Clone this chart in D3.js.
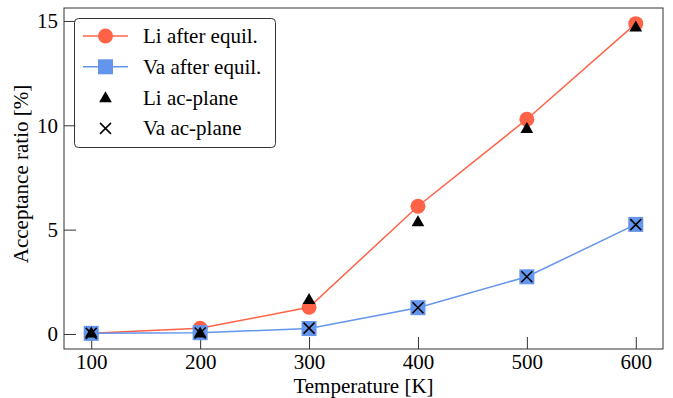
<!DOCTYPE html>
<html>
<head>
<meta charset="utf-8">
<script src="https://cdn.jsdelivr.net/npm/d3@7"></script>
<style>
  body { margin: 0; background: #fff; }
  svg { display: block; }
</style>
</head>
<body>
<svg id="chart" width="673" height="398"></svg>
<script>
// data
var temps = [100, 200, 300, 400, 500, 600];
var liEquil = [0.03, 0.27, 1.28, 6.12, 10.29, 14.87];
var vaEquil = [0.03, 0.06, 0.26, 1.26, 2.74, 5.25];
var liPlane = [0.05, 0.05, 1.66, 5.38, 9.86, 14.72];
var vaPlane = [0.03, 0.05, 0.28, 1.26, 2.74, 5.24];
var xTicks = [100, 200, 300, 400, 500, 600];
var yTicks = [0, 5, 10, 15];

var red = "#ff6347", blue = "#6495ed";
var fontSize = 21, font = "Liberation Serif";

var svg = d3.select("#chart");
var m = {left: 64, right: 663, top: 8, bottom: 349};

var x = d3.scaleLinear().domain([75, 625]).range([m.left, m.right]);
var y = d3.scaleLinear().domain([-0.72, 15.62]).range([m.bottom, m.top]);

// axes, ticks pointing inward
var gx = svg.append("g").attr("transform", "translate(0," + m.bottom + ")")
    .call(d3.axisBottom(x).tickValues(xTicks).tickSize(-12).tickPadding(5));
var gy = svg.append("g").attr("transform", "translate(" + m.left + ",0)")
    .call(d3.axisLeft(y).tickValues(yTicks).tickSize(-12).tickPadding(6));
[gx, gy].forEach(function(g){
    g.select(".domain").remove();
    g.selectAll("line").attr("stroke", "#333").attr("stroke-width", 1);
    g.selectAll("text").attr("font-size", fontSize).attr("font-family", font).attr("fill", "#000");
});

svg.append("text").attr("x", (m.left + m.right) / 2).attr("y", 392.5)
    .attr("text-anchor", "middle").attr("font-size", fontSize).attr("font-family", font)
    .text("Temperature [K]");
svg.append("text").attr("transform", "translate(28,174) rotate(-90)")
    .attr("text-anchor", "middle").attr("font-size", fontSize).attr("font-family", font)
    .text("Acceptance ratio [%]");

var line = d3.line().x(function(d, i){ return x(temps[i]); }).y(function(d){ return y(d); });
var plot = svg.append("g");

function drawSeries(vals, color, shape){
    plot.append("path").datum(vals).attr("d", line)
        .attr("fill", "none").attr("stroke", color).attr("stroke-width", 1.5);
    plot.selectAll(null).data(vals).enter().append("path")
        .attr("transform", function(d, i){ return "translate(" + x(temps[i]) + "," + y(d) + ")"; })
        .attr("d", d3.symbol().type(shape).size(shape === d3.symbolCircle ? 176 : 225))
        .attr("fill", color);
}
drawSeries(liEquil, red, d3.symbolCircle);
drawSeries(vaEquil, blue, d3.symbolSquare);

plot.selectAll(null).data(liPlane).enter().append("path")
    .attr("transform", function(d, i){ return "translate(" + x(temps[i]) + "," + (y(d) + 1) + ")"; })
    .attr("d", d3.symbol().type(d3.symbolTriangle).size(70))
    .attr("fill", "#000");

function cross(s){ return "M" + -s + "," + -s + "L" + s + "," + s + "M" + -s + "," + s + "L" + s + "," + -s; }
plot.selectAll(null).data(vaPlane).enter().append("path")
    .attr("transform", function(d, i){ return "translate(" + x(temps[i]) + "," + y(d) + ")"; })
    .attr("d", cross(5.5)).attr("stroke", "#000").attr("stroke-width", 1.5).attr("fill", "none");

// frame
svg.append("rect").attr("x", m.left).attr("y", m.top)
    .attr("width", m.right - m.left).attr("height", m.bottom - m.top)
    .attr("fill", "none").attr("stroke", "#333").attr("stroke-width", 1);

// legend
var leg = svg.append("g");
leg.append("rect").attr("x", 74.5).attr("y", 18.5).attr("width", 201).attr("height", 129)
    .attr("rx", 4).attr("fill", "#fff").attr("fill-opacity", 0.8)
    .attr("stroke", "#333").attr("stroke-width", 1);
var legItems = [
    {label: "Li after equil.", color: red, shape: "circle"},
    {label: "Va after equil.", color: blue, shape: "square"},
    {label: "Li ac-plane", color: "#000", shape: "triangle"},
    {label: "Va ac-plane", color: "#000", shape: "cross"}
];
legItems.forEach(function(it, i){
    var cy = 36 + i * 30.8;
    var cx = 105.5;
    if (it.shape === "circle" || it.shape === "square") {
        leg.append("line").attr("x1", 83).attr("x2", 128).attr("y1", cy).attr("y2", cy)
            .attr("stroke", it.color).attr("stroke-width", 1.5);
        leg.append("path").attr("transform", "translate(" + cx + "," + cy + ")")
            .attr("d", d3.symbol().type(it.shape === "circle" ? d3.symbolCircle : d3.symbolSquare)
                .size(it.shape === "circle" ? 176 : 225))
            .attr("fill", it.color);
    } else if (it.shape === "triangle") {
        leg.append("path").attr("transform", "translate(" + cx + "," + (cy + 1) + ")")
            .attr("d", d3.symbol().type(d3.symbolTriangle).size(70)).attr("fill", "#000");
    } else {
        leg.append("path").attr("transform", "translate(" + cx + "," + cy + ")")
            .attr("d", cross(5.5)).attr("stroke", "#000").attr("stroke-width", 1.5);
    }
    leg.append("text").attr("x", 143).attr("y", cy).attr("dy", "0.33em")
        .attr("font-size", fontSize).attr("font-family", font).text(it.label);
});
</script>
</body>
</html>
